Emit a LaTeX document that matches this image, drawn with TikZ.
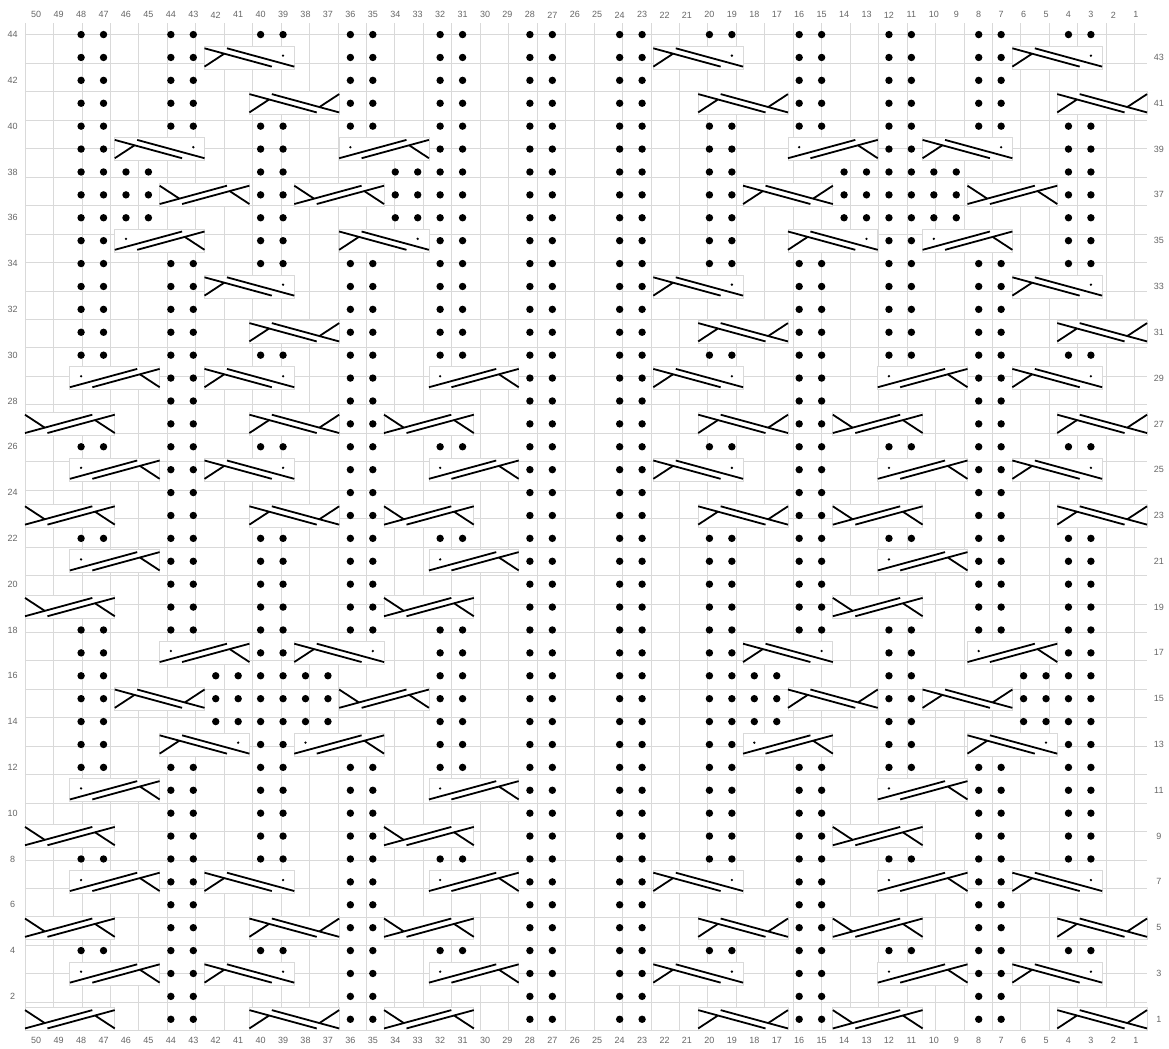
\documentclass[tikz,border=0pt]{standalone}
\usepackage{fontspec}
\setmainfont{Liberation Sans}

% purl dots of one row
\newcommand{\purls}[2]{\foreach \pc in #2 {\fill ({50.5-\pc},{#1-0.5}) circle (3.7pt);}}
% 4-stitch cables, #1 = leftmost column, #2 = row
\newcommand{\cabbox}{\filldraw[fill=white,draw=black!15,line width=0.8pt] (0,0) rectangle (4,1);}
\newcommand{\cabA}[2]{\begin{scope}[shift={({50-#1},{#2-1})}]
		\cabbox
		\draw[cab] (0,0.9) -- (3,0.1);
		\draw[cab] (1,0.9) -- (4,0.1);
		\draw[cab] (0,0.1) -- (0.88,0.665);
		\fill (3.5,0.58) circle (1.3pt);
	\end{scope}}
\newcommand{\cabC}[2]{\begin{scope}[shift={({50-#1},{#2-1})}]
		\cabbox
		\draw[cab] (0,0.1) -- (3,0.9);
		\draw[cab] (1,0.1) -- (4,0.9);
		\draw[cab] (4,0.1) -- (3.12,0.665);
		\fill (0.5,0.58) circle (1.3pt);
	\end{scope}}
\newcommand{\cabB}[2]{\begin{scope}[shift={({50-#1},{#2-1})}]
		\cabbox
		\draw[cab] (0,0.9) -- (3,0.1);
		\draw[cab] (1,0.9) -- (4,0.1);
		\draw[cab] (0,0.1) -- (0.88,0.665);
		\draw[cab] (4,0.9) -- (3.12,0.335);
	\end{scope}}
\newcommand{\cabD}[2]{\begin{scope}[shift={({50-#1},{#2-1})}]
		\cabbox
		\draw[cab] (0,0.1) -- (3,0.9);
		\draw[cab] (1,0.1) -- (4,0.9);
		\draw[cab] (4,0.1) -- (3.12,0.665);
		\draw[cab] (0,0.9) -- (0.88,0.335);
	\end{scope}}

\def\allp{48,47,44,43,40,39,36,35,32,31,28,27,24,23,20,19,16,15,12,11,8,7,4,3}
\def\pa{48,47,44,43,36,35,32,31,28,27,24,23,16,15,12,11,8,7}
\def\pb{48,47,40,39,32,31,28,27,24,23,20,19,12,11,4,3}
\def\pc{48,47,46,45,40,39,34,33,32,31,28,27,24,23,20,19,14,13,12,11,10,9,4,3}
\def\pd{44,43,36,35,28,27,24,23,16,15,8,7}
\def\pe{44,43,40,39,36,35,28,27,24,23,20,19,16,15,8,7,4,3}
\def\pf{48,47,42,41,40,39,38,37,32,31,28,27,24,23,20,19,18,17,12,11,6,5,4,3}

\begin{document}
\begin{tikzpicture}[x=22.44pt, y=22.9pt,
		gridln/.style={draw=black!15, line width=0.8pt},
		cab/.style={line width=1.8pt},
		lab/.style={text=black!60, font=\fontsize{9}{10}\selectfont, inner sep=0pt}]
	\useasboundingbox (-1.114,-0.755) rectangle (50.98,45.01);
	\fill[white] (-1.114,-0.755) rectangle (50.98,45.01);
	
	\draw[gridln] (0,0) grid (50,44);
	
	% numbers
	\foreach \n in {1,...,50} {
		\node[lab] (top\n) at ({50.5-\n},44.36) {\n};
		\node[lab] (bot\n) at ({50.5-\n},-0.41) {\n};
	}
	\foreach \n in {2,4,...,44}
		\node[lab] (left\n) at (-0.55,{\n-0.5}) {\n};
	\foreach \n in {1,3,...,43}
		\node[lab] (right\n) at (50.53,{\n-0.5}) {\n};
	
	% rows 44 - 37
	\purls{44}{\allp}
	\purls{43}{\pa} \cabA{42}{43} \cabA{22}{43} \cabA{6}{43}
	\purls{42}{\pa}
	\purls{41}{\pa} \cabB{40}{41} \cabB{20}{41} \cabB{4}{41}
	\purls{40}{\allp}
	\purls{39}{\pb} \cabA{46}{39} \cabC{36}{39} \cabC{16}{39} \cabA{10}{39}
	\purls{38}{\pc}
	\purls{37}{\pc} \cabD{44}{37} \cabD{38}{37} \cabB{18}{37} \cabD{8}{37}
	% rows 36 - 29
	\purls{36}{\pc}
	\purls{35}{\pb} \cabC{46}{35} \cabA{36}{35} \cabA{16}{35} \cabC{10}{35}
	\purls{34}{\allp}
	\purls{33}{\pa} \cabA{42}{33} \cabA{22}{33} \cabA{6}{33}
	\purls{32}{\pa}
	\purls{31}{\pa} \cabB{40}{31} \cabB{20}{31} \cabB{4}{31}
	\purls{30}{\allp}
	\purls{29}{\pd} \cabC{48}{29} \cabA{42}{29} \cabC{32}{29} \cabA{22}{29} \cabC{12}{29} \cabA{6}{29}
	% rows 28 - 19
	\purls{28}{\pd}
	\purls{27}{\pd} \cabD{50}{27} \cabB{40}{27} \cabD{34}{27} \cabB{20}{27} \cabD{14}{27} \cabB{4}{27}
	\purls{26}{\allp}
	\purls{25}{\pd} \cabC{48}{25} \cabA{42}{25} \cabC{32}{25} \cabA{22}{25} \cabC{12}{25} \cabA{6}{25}
	\purls{24}{\pd}
	\purls{23}{\pd} \cabD{50}{23} \cabB{40}{23} \cabD{34}{23} \cabB{20}{23} \cabD{14}{23} \cabB{4}{23}
	\purls{22}{\allp}
	\purls{21}{\pe} \cabC{48}{21} \cabC{32}{21} \cabC{12}{21}
	\purls{20}{\pe}
	\purls{19}{\pe} \cabD{50}{19} \cabD{34}{19} \cabD{14}{19}
	% rows 18 - 9
	\purls{18}{\allp}
	\purls{17}{\pb} \cabC{44}{17} \cabA{38}{17} \cabA{18}{17} \cabC{8}{17}
	\purls{16}{\pf}
	\purls{15}{\pf} \cabB{46}{15} \cabD{36}{15} \cabB{16}{15} \cabB{10}{15}
	\purls{14}{\pf}
	\purls{13}{\pb} \cabA{44}{13} \cabC{38}{13} \cabC{18}{13} \cabA{8}{13}
	\purls{12}{\allp}
	\purls{11}{\pe} \cabC{48}{11} \cabC{32}{11} \cabC{12}{11}
	\purls{10}{\pe}
	\purls{9}{\pe} \cabD{50}{9} \cabD{34}{9} \cabD{14}{9}
	% rows 8 - 1
	\purls{8}{\allp}
	\purls{7}{\pd} \cabC{48}{7} \cabA{42}{7} \cabC{32}{7} \cabA{22}{7} \cabC{12}{7} \cabA{6}{7}
	\purls{6}{\pd}
	\purls{5}{\pd} \cabD{50}{5} \cabB{40}{5} \cabD{34}{5} \cabB{20}{5} \cabD{14}{5} \cabB{4}{5}
	\purls{4}{\allp}
	\purls{3}{\pd} \cabC{48}{3} \cabA{42}{3} \cabC{32}{3} \cabA{22}{3} \cabC{12}{3} \cabA{6}{3}
	\purls{2}{\pd}
	\purls{1}{\pd} \cabD{50}{1} \cabB{40}{1} \cabD{34}{1} \cabB{20}{1} \cabD{14}{1} \cabB{4}{1}
\end{tikzpicture}
\end{document}
